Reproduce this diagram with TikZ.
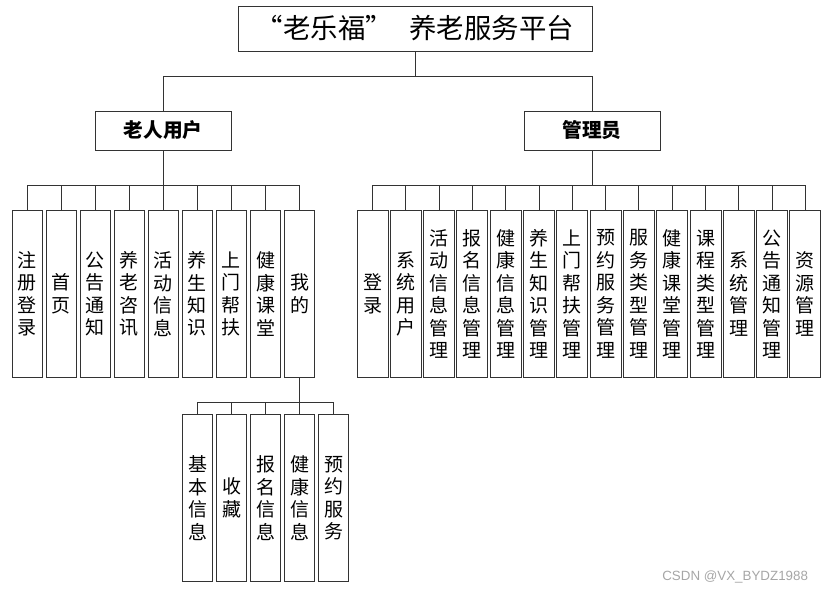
\documentclass[tikz,border=0pt]{standalone}
\usepackage{fontspec}
\setmainfont{Noto Sans CJK SC}
\setsansfont{Liberation Sans}
\begin{document}
\begin{tikzpicture}[x=0.025cm,y=-0.025cm,
    riquadro/.style={draw=black!80,line width=0.6pt,inner sep=0pt},
    foglia/.style={riquadro,anchor=north,minimum width=0.75cm,minimum height=4.175cm,
        align=center,font=\fontsize{13.5pt}{16pt}\selectfont},
    filo/.style={draw=black!80,line width=0.6pt}]
    \useasboundingbox (0,0) rectangle (830,593);
    %titolo
    \node[riquadro,minimum width=8.85cm,minimum height=1.125cm,
        font=\fontsize{19.5pt}{22pt}\selectfont] (titolo) at (415,28.5)
        {“老乐福”\hspace{0.6em}养老服务平台};
    %utenti
    \node[riquadro,minimum width=3.4cm,minimum height=0.975cm,
        font=\fontsize{14pt}{16pt}\selectfont\bfseries] (anziano) at (163,130.5) {老人用户};
    \node[riquadro,minimum width=3.4cm,minimum height=0.975cm,
        font=\fontsize{14pt}{16pt}\selectfont\bfseries] (admin) at (592,130.5) {管理员};
    \draw[filo] (titolo.south) -- ++(0,25) -| (anziano.north);
    \draw[filo] (titolo.south) -- ++(0,25) -| (admin.north);
    %funzioni anziano
    \foreach \t [count=\i from 0] in {{注\\册\\登\\录},{首\\页},{公\\告\\通\\知},{养\\老\\咨\\讯},
        {活\\动\\信\\息},{养\\生\\知\\识},{上\\门\\帮\\扶},{健\\康\\课\\堂},{我\\的}}
    {
        \node[foglia] (s\i) at (27+34.07*\i,210) {\t};
        \draw[filo] (s\i.north) -- ++(0,-25) -| (anziano.south);
    }
    %funzioni amministratore
    \foreach \t [count=\i from 0] in {{登\\录},{系\\统\\用\\户},{活\\动\\信\\息\\管\\理},
        {报\\名\\信\\息\\管\\理},{健\\康\\信\\息\\管\\理},{养\\生\\知\\识\\管\\理},
        {上\\门\\帮\\扶\\管\\理},{预\\约\\服\\务\\管\\理},{服\\务\\类\\型\\管\\理},
        {健\\康\\课\\堂\\管\\理},{课\\程\\类\\型\\管\\理},{系\\统\\管\\理},
        {公\\告\\通\\知\\管\\理},{资\\源\\管\\理}}
    {
        \node[foglia,minimum width=0.775cm] (a\i) at (372.5+33.3*\i,210) {\t};
        \draw[filo] (a\i.north) -- ++(0,-25) -| (admin.south);
    }
    %sotto "我的"
    \foreach \t [count=\i from 0] in {{基\\本\\信\\息},{收\\藏},{报\\名\\信\\息},
        {健\\康\\信\\息},{预\\约\\服\\务}}
    {
        \node[foglia] (m\i) at (197.5+34.1*\i,414) {\t};
        \draw[filo] (m\i.north) -- ++(0,-12) -| (s8.south);
    }
    %filigrana
    \node[font=\sffamily\fontsize{9.5pt}{11pt}\selectfont,text=black!35,anchor=east] (csdn) at (813,577) {CSDN @VX\_BYDZ1988};
\end{tikzpicture}
\end{document}
